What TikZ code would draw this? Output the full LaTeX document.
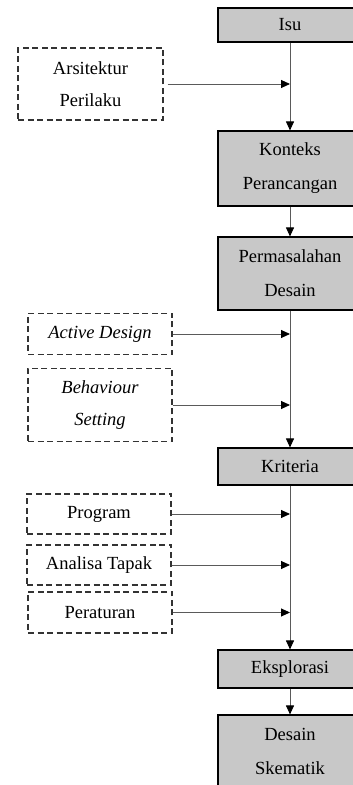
\documentclass[tikz,border=0pt]{standalone}
\usepackage{fontspec}
\setmainfont{Liberation Serif}
\usetikzlibrary{arrows.meta}
\definecolor{boxgrey}{HTML}{C8C8C8}
\definecolor{lineg}{HTML}{5A5A5A}
\definecolor{dashg}{HTML}{333333}
\tikzset{
  mainbox/.style={draw=black, line width=1.1pt, fill=boxgrey, minimum width=144pt, inner sep=0pt, align=center, font=\fontsize{18.5}{34}\selectfont},
  sidebox/.style={draw=dashg, line width=1.4pt, dash pattern=on 6pt off 3.5pt, minimum width=144pt, inner sep=0pt, align=center, font=\fontsize{18.5}{32}\selectfont},
  flow/.style={draw=lineg, line width=0.9pt, -{Triangle[length=9pt,width=8pt,color=black,fill=black]}},
}
\begin{document}
\begin{tikzpicture}[x=1pt,y=1pt]
\useasboundingbox (0,0) rectangle (353,785);
\clip (0,0) rectangle (353,785);
% main boxes
\node[mainbox, minimum height=34pt] (isu) at (290,760) {Isu};
\node[mainbox, minimum height=75pt] (kont) at (290,616.5) {Konteks\\Perancangan};
\node[mainbox, minimum height=73pt] (perm) at (290,511.5) {Permasalahan\\Desain};
\node[mainbox, minimum height=37pt] (krit) at (290,318.5) {Kriteria};
\node[mainbox, minimum height=38pt] (eksp) at (290,116) {Eksplorasi};
\node[mainbox, minimum height=72pt] (desk) at (290,34) {Desain\\Skematik};
% side boxes
\node[sidebox, minimum width=145pt, minimum height=72pt] (arsi) at (90.5,701) {Arsitektur\\Perilaku};
\node[sidebox, minimum height=41pt] (act) at (100,451) {\itshape Active Design};
\node[sidebox, minimum height=73pt] (beh) at (100,380) {\itshape Behaviour\\\itshape Setting};
\node[sidebox, minimum height=40pt] (prog) at (99,271) {Program};
\node[sidebox, minimum height=40pt] (anal) at (99,220) {Analisa Tapak};
\node[sidebox, minimum height=41pt] (pera) at (100,172.5) {Peraturan};
% junctions
\coordinate (j1) at (290,701);
\coordinate (j2) at (290,451);
\coordinate (j3) at (290,380);
\coordinate (j4) at (290,271);
\coordinate (j5) at (290,220);
\coordinate (j6) at (290,172.5);
% main flow
\draw[flow] (isu) -- (kont);
\draw[flow] (kont) -- (perm);
\draw[flow] (perm) -- (krit);
\draw[flow] (krit) -- (eksp);
\draw[flow] (eksp) -- (desk);
% side inputs
\draw[flow] ([xshift=4pt]arsi.east) -- (j1);
\draw[flow] (act) -- (j2);
\draw[flow] (beh) -- (j3);
\draw[flow] (prog) -- (j4);
\draw[flow] (anal) -- (j5);
\draw[flow] (pera) -- (j6);
\end{tikzpicture}
\end{document}
